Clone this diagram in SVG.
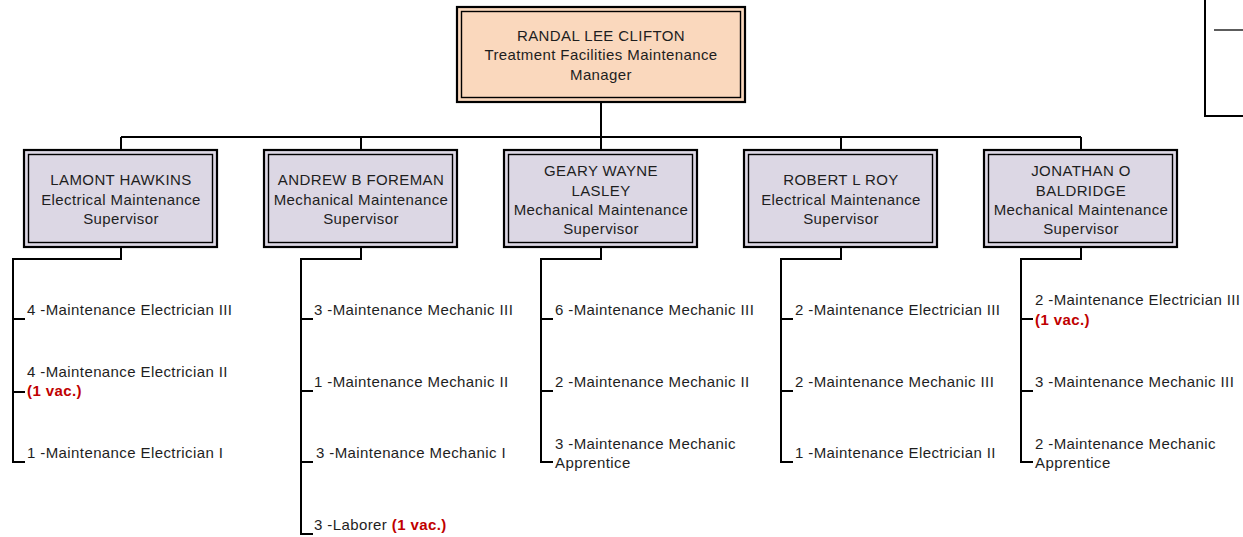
<svg xmlns="http://www.w3.org/2000/svg" width="1243" height="537" viewBox="0 0 1243 537">
<style>
text{font-family:"Liberation Sans",Arial,sans-serif;font-size:15px;letter-spacing:0.4px;fill:#1e1e1e}
.c{text-anchor:middle}
.v{fill:#c00000;font-weight:bold}
.ob{stroke:#000;stroke-width:2.2}
.ib{fill:none;stroke:#000;stroke-width:1.4}
.sup{fill:#dcd7e4}
.mgr{fill:#fad8bd}
.conn path{fill:none;stroke:#000;stroke-width:2}
</style>
<rect width="1243" height="537" fill="#fff"/>
<g class="conn">
<path d="M601 102V137M121 137H1081M121 137V150M361 137V150M601 137V150M841 137V150M1081 137V150"/>
<path d="M121 247V259H13V462H25M13 319H25M13 392H25"/>
<path d="M361 247V259H301V534H313M301 319H313M301 391H313M301 462H313"/>
<path d="M601 247V259H541V462H553M541 319H553M541 391H553"/>
<path d="M841 247V259H781V462H793M781 319H793M781 391H793"/>
<path d="M1081 247V259H1021V462H1033M1021 319H1033M1021 391H1033"/>
</g>
<g id="legend">
<path d="M1205 -2V116H1245" fill="none" stroke="#000" stroke-width="2"/>
<path d="M1214 30H1245" fill="none" stroke="#333" stroke-width="1.6"/>
</g>
<g id="manager">
<rect class="ob mgr" x="457" y="7" width="288" height="95"/>
<rect class="ib" x="461.5" y="11.5" width="279" height="86"/>
<text class="c" x="601" y="40.5">RANDAL LEE CLIFTON</text>
<text class="c" x="601" y="60">Treatment Facilities Maintenance</text>
<text class="c" x="601" y="79.5">Manager</text>
</g>
<g id="hawkins">
<rect class="ob sup" x="24" y="150" width="193" height="97"/>
<rect class="ib" x="28.5" y="154.5" width="184" height="88"/>
<text class="c" x="121" y="185">LAMONT HAWKINS</text>
<text class="c" x="121" y="204.5">Electrical Maintenance</text>
<text class="c" x="121" y="224">Supervisor</text>
</g>
<g id="foreman">
<rect class="ob sup" x="264" y="150" width="193" height="97"/>
<rect class="ib" x="268.5" y="154.5" width="184" height="88"/>
<text class="c" x="361" y="185">ANDREW B FOREMAN</text>
<text class="c" x="361" y="204.5">Mechanical Maintenance</text>
<text class="c" x="361" y="224">Supervisor</text>
</g>
<g id="lasley">
<rect class="ob sup" x="504" y="150" width="193" height="97"/>
<rect class="ib" x="508.5" y="154.5" width="184" height="88"/>
<text class="c" x="601" y="176">GEARY WAYNE</text>
<text class="c" x="601" y="195.5">LASLEY</text>
<text class="c" x="601" y="215">Mechanical Maintenance</text>
<text class="c" x="601" y="234">Supervisor</text>
</g>
<g id="roy">
<rect class="ob sup" x="744" y="150" width="193" height="97"/>
<rect class="ib" x="748.5" y="154.5" width="184" height="88"/>
<text class="c" x="841" y="185">ROBERT L ROY</text>
<text class="c" x="841" y="204.5">Electrical Maintenance</text>
<text class="c" x="841" y="224">Supervisor</text>
</g>
<g id="baldridge">
<rect class="ob sup" x="984" y="150" width="193" height="97"/>
<rect class="ib" x="988.5" y="154.5" width="184" height="88"/>
<text class="c" x="1081" y="176">JONATHAN O</text>
<text class="c" x="1081" y="195.5">BALDRIDGE</text>
<text class="c" x="1081" y="215">Mechanical Maintenance</text>
<text class="c" x="1081" y="234">Supervisor</text>
</g>
<g id="hawkins-staff">
<text x="27" y="315">4 -Maintenance Electrician III</text>
<text x="27" y="376.5">4 -Maintenance Electrician II</text>
<text class="v" x="27" y="396">(1 vac.)</text>
<text x="27" y="458.3">1 -Maintenance Electrician I</text>
</g>
<g id="foreman-staff">
<text x="314" y="315">3 -Maintenance Mechanic III</text>
<text x="314" y="386.7">1 -Maintenance Mechanic II</text>
<text x="316" y="458.3">3 -Maintenance Mechanic I</text>
<text x="314" y="530">3 -Laborer <tspan class="v">(1 vac.)</tspan></text>
</g>
<g id="lasley-staff">
<text x="555" y="315">6 -Maintenance Mechanic III</text>
<text x="555" y="386.7">2 -Maintenance Mechanic II</text>
<text x="555" y="448.5">3 -Maintenance Mechanic</text>
<text x="555" y="468">Apprentice</text>
</g>
<g id="roy-staff">
<text x="795" y="315">2 -Maintenance Electrician III</text>
<text x="795" y="386.7">2 -Maintenance Mechanic III</text>
<text x="795" y="458.3">1 -Maintenance Electrician II</text>
</g>
<g id="baldridge-staff">
<text x="1035" y="305">2 -Maintenance Electrician III</text>
<text class="v" x="1035" y="324.5">(1 vac.)</text>
<text x="1035" y="386.7">3 -Maintenance Mechanic III</text>
<text x="1035" y="448.5">2 -Maintenance Mechanic</text>
<text x="1035" y="468">Apprentice</text>
</g>
</svg>
